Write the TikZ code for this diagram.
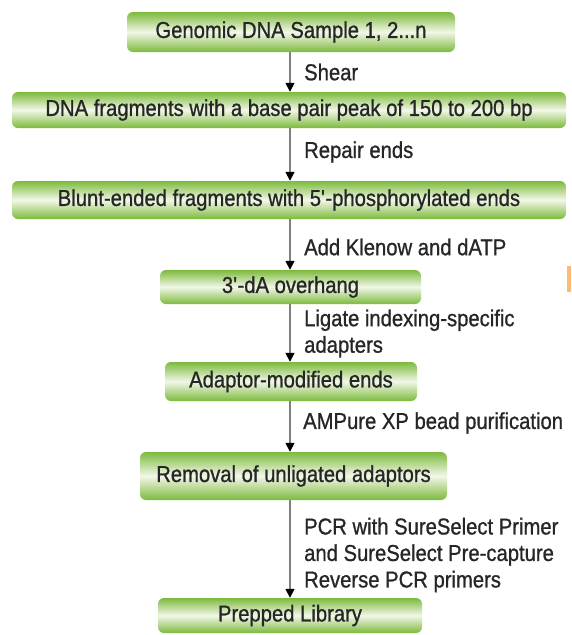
\documentclass[tikz,border=0pt]{standalone}
\usepackage{fontspec}
\setmainfont{Liberation Sans}[FakeStretch=0.88,FakeBold=0.9]
\usetikzlibrary{arrows.meta}
\definecolor{gdark}{HTML}{7CBA3C}
\definecolor{glight}{HTML}{F2F7E8}
\definecolor{txt}{HTML}{262626}
\definecolor{lgray}{HTML}{808080}
\tikzset{
  stepbox/.style={rounded corners=6pt, top color=gdark, bottom color=gdark, middle color=glight,
    draw=none, inner sep=0pt, text=txt, font=\fontsize{23}{26}\selectfont},
  arr/.style={draw=lgray, line width=1.6pt, -{Triangle[length=9pt,width=9pt,fill=black,color=black]}},
  lbl/.style={anchor=west, align=left, text=txt, inner sep=0pt, font=\fontsize{23}{26.5}\selectfont}
}
\begin{document}
\begin{tikzpicture}[x=1pt,y=-1pt]
\useasboundingbox (0,0) rectangle (571,635);
\fill[white] (0,0) rectangle (571,635);
\coordinate (ax) at (290,0);
\node[stepbox, minimum width=328pt, minimum height=40pt] (b1) at (291,32) {Genomic DNA Sample 1, 2...n};
\node[stepbox, minimum width=554pt, minimum height=36pt] (b2) at (289,110) {DNA fragments with a base pair peak of 150 to 200 bp};
\node[stepbox, minimum width=554pt, minimum height=38pt] (b3) at (289,200) {Blunt-ended fragments with 5\textquotesingle-phosphorylated ends};
\node[stepbox, minimum width=261pt, minimum height=34pt] (b4) at (290.5,287) {3\textquotesingle-dA overhang};
\node[stepbox, minimum width=252pt, minimum height=39pt] (b5) at (291,381.5) {Adaptor-modified ends};
\node[stepbox, minimum width=307pt, minimum height=48pt] (b6) at (293.5,476) {Removal of unligated adaptors};
\node[stepbox, minimum width=264pt, minimum height=35pt] (b7) at (290,615.5) {Prepped Library};
\draw[arr] (b1.south -| ax) -- (b2.north -| ax);
\draw[arr] (b2.south -| ax) -- (b3.north -| ax);
\draw[arr] (b3.south -| ax) -- (b4.north -| ax);
\draw[arr] (b4.south -| ax) -- (b5.north -| ax);
\draw[arr] (b5.south -| ax) -- (b6.north -| ax);
\draw[arr] (b6.south -| ax) -- (b7.north -| ax);
\node[lbl] (l1) at (304,72) {Shear};
\node[lbl] (l2) at (304,152) {Repair ends};
\node[lbl] (l3) at (304,247) {Add Klenow and dATP};
\node[lbl] (l4) at (304,333.5) {Ligate indexing-specific\\adapters};
\node[lbl] (l5) at (303,423) {AMPure XP bead purification};
\node[lbl] (l6) at (304,555) {PCR with SureSelect Primer\\and SureSelect Pre-capture\\Reverse PCR primers};
\fill[orange!55] (567,266) rectangle (571,292);
\end{tikzpicture}
\end{document}
